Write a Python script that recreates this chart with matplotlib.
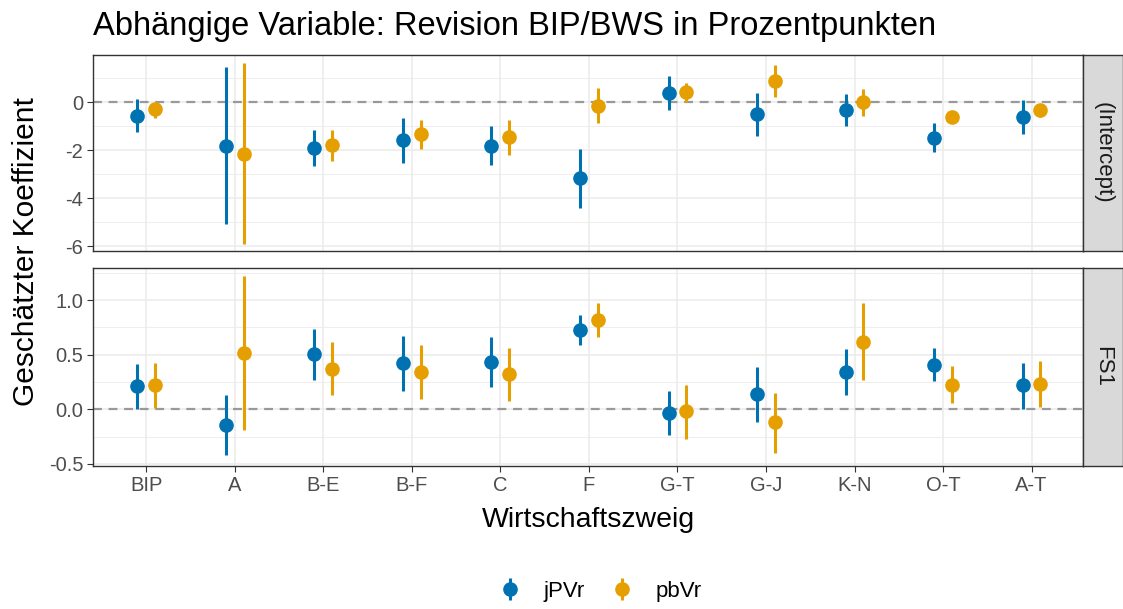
import matplotlib
matplotlib.use("Agg")
import matplotlib.pyplot as plt
from matplotlib.ticker import MultipleLocator, FormatStrFormatter
import numpy as np

plt.rcParams["font.family"] = ["Liberation Sans", "DejaVu Sans"]

sectors = ["BIP", "A", "B-E", "B-F", "C", "F", "G-T", "G-J", "K-N", "O-T", "A-T"]
series = ["jPVr", "pbVr"]
colors = {"jPVr": "#0072B2", "pbVr": "#E69F00"}

# (Intercept) panel: estimate, lower, upper
icpt_jpvr = [-0.57, -1.82, -1.91, -1.57, -1.82, -3.16, 0.40, -0.49, -0.32, -1.47, -0.60]
icpt_jpvr_lo = [-1.26, -5.07, -2.67, -2.54, -2.63, -4.41, -0.32, -1.40, -0.97, -2.08, -1.32]
icpt_jpvr_hi = [0.12, 1.45, -1.15, -0.67, -1.01, -1.94, 1.09, 0.40, 0.34, -0.87, 0.10]
icpt_pbvr = [-0.29, -2.15, -1.80, -1.33, -1.46, -0.14, 0.44, 0.90, 0.00, -0.62, -0.32]
icpt_pbvr_lo = [-0.64, -5.89, -2.44, -1.95, -2.20, -0.85, 0.03, 0.23, -0.56, -0.70, -0.60]
icpt_pbvr_hi = [-0.04, 1.62, -1.16, -0.76, -0.74, 0.58, 0.79, 1.55, 0.54, -0.54, -0.11]

# FS1 panel
fs1_jpvr = [0.21, -0.145, 0.505, 0.425, 0.43, 0.73, -0.03, 0.14, 0.34, 0.405, 0.22]
fs1_jpvr_lo = [0.00, -0.42, 0.27, 0.17, 0.20, 0.59, -0.24, -0.115, 0.13, 0.255, 0.00]
fs1_jpvr_hi = [0.415, 0.13, 0.74, 0.67, 0.66, 0.86, 0.17, 0.385, 0.55, 0.56, 0.425]
fs1_pbvr = [0.22, 0.515, 0.37, 0.345, 0.32, 0.82, -0.02, -0.12, 0.62, 0.225, 0.235]
fs1_pbvr_lo = [0.01, -0.19, 0.13, 0.09, 0.08, 0.66, -0.27, -0.40, 0.27, 0.06, 0.02]
fs1_pbvr_hi = [0.42, 1.22, 0.62, 0.59, 0.56, 0.975, 0.225, 0.15, 0.97, 0.395, 0.44]

panels = [
    ("(Intercept)", {"jPVr": (icpt_jpvr, icpt_jpvr_lo, icpt_jpvr_hi),
                     "pbVr": (icpt_pbvr, icpt_pbvr_lo, icpt_pbvr_hi)},
     (-6.2, 1.97), [-6, -4, -2, 0], "%d"),
    ("FS1", {"jPVr": (fs1_jpvr, fs1_jpvr_lo, fs1_jpvr_hi),
             "pbVr": (fs1_pbvr, fs1_pbvr_lo, fs1_pbvr_hi)},
     (-0.52, 1.295), [-0.5, 0.0, 0.5, 1.0], "%.1f"),
]

W, H = 1123, 609
fig = plt.figure(figsize=(W / 100, H / 100), dpi=100)

left, right = 93, 1083
boxes = [(55, 251), (268, 466)]
x = np.arange(len(sectors))
dodge = {"jPVr": -0.1, "pbVr": 0.1}
grid_c = "#EBEBEB"
handles = {}

for (label, data, ylim, yticks, fmt), (top, bot) in zip(panels, boxes):
    ax = fig.add_axes([left / W, 1 - bot / H, (right - left) / W, (bot - top) / H])
    ax.set_xlim(-0.6, 10.58)
    ax.set_ylim(*ylim)
    ax.set_yticks(yticks)
    ax.yaxis.set_major_formatter(FormatStrFormatter(fmt))
    step = yticks[1] - yticks[0]
    ax.yaxis.set_minor_locator(MultipleLocator(step / 2))
    ax.set_xticks(x)
    ax.grid(which="major", color=grid_c, linewidth=1.1)
    ax.grid(which="minor", axis="y", color=grid_c, linewidth=0.6)
    ax.set_axisbelow(True)
    ax.tick_params(which="minor", length=0)
    ax.tick_params(which="major", length=4, color="#333333", labelcolor="#4D4D4D",
                   labelsize=14.5, width=0.8, pad=3)
    for sp in ax.spines.values():
        sp.set_color("#333333")
        sp.set_linewidth(1.0)
    ax.axhline(0, color="#999999", linestyle=(0, (4, 3)), linewidth=1.6, zorder=1.5)

    for s in series:
        est, lo, hi = (np.array(v) for v in data[s])
        eb = ax.errorbar(x + dodge[s], est, yerr=[est - lo, hi - est], fmt="o",
                         color=colors[s], ms=9.5, elinewidth=2.2, capsize=0,
                         zorder=3)
        handles[s] = eb

    if label == "FS1":
        ax.set_xticklabels(sectors)
        ax.set_xlabel("Wirtschaftszweig", fontsize=20.5, labelpad=9)
    else:
        ax.set_xticklabels([])
        ax.tick_params(axis="x", length=0)

    # facet strip on the right
    sx = fig.add_axes([right / W, 1 - bot / H, (W - right) / W, (bot - top) / H])
    sx.set_facecolor("#D9D9D9")
    sx.set_xticks([])
    sx.set_yticks([])
    for sp in sx.spines.values():
        sp.set_color("#333333")
        sp.set_linewidth(1.0)
    sx.text(0.5, 0.5, label, rotation=-90, ha="center", va="center",
            fontsize=16, color="#1A1A1A", transform=sx.transAxes)

fig.text(93 / W, 1 - 26 / H, "Abhängige Variable: Revision BIP/BWS in Prozentpunkten",
         fontsize=23.5, ha="left", va="center", color="black")
fig.text(26 / W, 1 - 252 / H, "Geschätzter Koeffizient", rotation=90,
         fontsize=21.5, ha="center", va="center")

fig.legend([handles[s] for s in series], series, loc="center",
           bbox_to_anchor=(599 / W, 1 - 591 / H), ncol=2, frameon=False,
           fontsize=16, handletextpad=0.9, columnspacing=1.1, handlelength=1.2)

fig.savefig("out.png", dpi=100)
